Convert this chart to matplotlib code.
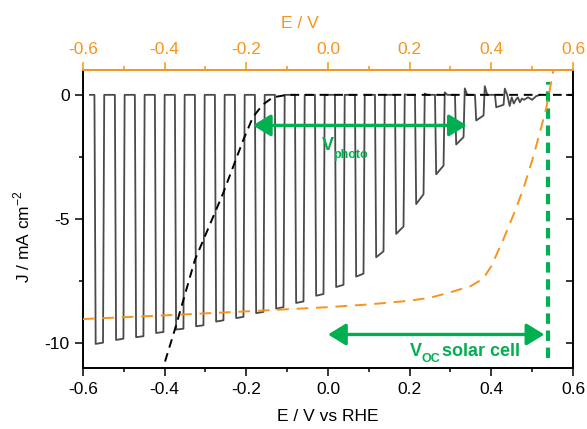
import matplotlib
matplotlib.use("Agg")
import matplotlib.pyplot as plt
from matplotlib.ticker import MultipleLocator

plt.rcParams['font.family'] = ['Liberation Sans', 'DejaVu Sans']
plt.rcParams['axes.unicode_minus'] = False
plt.rcParams['mathtext.fontset'] = 'custom'
plt.rcParams['mathtext.rm'] = 'Liberation Sans'

ORANGE = '#f7941d'
GREEN = '#00b050'
GREY = '#4a4a4a'

# chopped illumination scan (photoelectrode, vs RHE)
pulse_on = [-0.572, -0.522, -0.473, -0.424, -0.375, -0.326, -0.277, -0.228,
            -0.179, -0.130, -0.081, -0.032, 0.017, 0.066, 0.115, 0.164,
            0.213, 0.262, 0.311, 0.360, 0.409]
pulse_j_start = [-10.03, -9.87, -9.76, -9.59, -9.45, -9.32, -9.13, -8.99,
                 -8.79, -8.61, -8.38, -8.09, -7.74, -7.32, -6.54, -5.6,
                 -4.4, -3.2, -2.0, -1.03, -0.5]
pulse_j_end = [-9.98, -9.82, -9.72, -9.55, -9.42, -9.28, -9.08, -8.94,
               -8.74, -8.55, -8.32, -8.02, -7.65, -7.2, -6.3, -5.3,
               -4.0, -2.85, -1.7, -0.83, -0.4]
pulse_spike = [0, 0, 0, 0, 0, 0, 0, 0, 0, 0, 0, 0, 0, 0, 0, 0.02,
               0.05, 0.1, 0.26, 0.35, 0.25]
scan_start = -0.583
tail_e = [0.445, 0.45, 0.455, 0.46, 0.465, 0.47, 0.475, 0.48, 0.49, 0.5, 0.51, 0.52]
tail_j = [-0.45, -0.1, -0.35, -0.2, -0.1, -0.3, -0.15, -0.2, -0.1, -0.2, -0.05, 0.0]

# dark scan
dark_e = [-0.41, -0.404, -0.375, -0.326, -0.257, -0.208, -0.184, -0.16, -0.135, -0.1, 0.6]
dark_j = [-11.3, -11.0, -9.45, -6.65, -3.97, -1.84, -0.9, -0.4, -0.1, 0.0, 0.0]

# solar cell J-V (top axis, E / V)
pv_e = [-0.6, -0.4, -0.2, 0.0, 0.1, 0.2, 0.25, 0.3, 0.35, 0.38, 0.4, 0.43,
        0.46, 0.48, 0.5, 0.52, 0.535, 0.552]
pv_j = [-9.03, -8.88, -8.72, -8.55, -8.44, -8.29, -8.17, -7.95, -7.7, -7.4,
        -6.9, -5.8, -4.6, -3.7, -2.65, -1.45, -0.5, 0.97]

voc = 0.54
vphoto_left, vphoto_right, vphoto_j = -0.184, 0.34, -1.23
voc_left, voc_right, voc_j = 0.0, 0.53, -9.65

# build the chopped trace from the pulse table
chop_e = [scan_start]
chop_j = [0.0]
for e0, j0, j1, sp in zip(pulse_on, pulse_j_start, pulse_j_end, pulse_spike):
    chop_e += [e0, e0 + 0.003, e0 + 0.021, e0 + 0.024, e0 + 0.030]
    chop_j += [0.0, j0, j1, sp, 0.0]
chop_e += tail_e
chop_j += tail_j

fig = plt.figure(figsize=(5.87, 4.29), dpi=100)
ax = fig.add_axes([0.1414, 0.1422, 0.8347, 0.6946])

ax.plot(chop_e, chop_j, color=GREY, lw=1.3, zorder=3)
ax.plot(dark_e, dark_j, color='black', lw=1.4, dashes=(4.5, 3), zorder=4)

ax.set_xlim(-0.6, 0.6)
ax.set_ylim(-11, 1)
ax.xaxis.set_major_locator(MultipleLocator(0.2))
ax.xaxis.set_minor_locator(MultipleLocator(0.1))
ax.yaxis.set_major_locator(MultipleLocator(5))
ax.yaxis.set_minor_locator(MultipleLocator(2.5))
ax.xaxis.set_major_formatter(plt.FuncFormatter(lambda v, p: f"{v:.1f}"))
ax.tick_params(which='major', direction='out', length=6, width=1.1, labelsize=12.5)
ax.tick_params(which='minor', direction='out', length=3, width=1.1)
ax.tick_params(axis='x', pad=4)
ax.spines['top'].set_visible(False)
ax.spines['right'].set_visible(False)
for s in ['left', 'bottom']:
    ax.spines[s].set_linewidth(1.4)

ax.set_xlabel('E / V vs RHE', fontsize=12.5, labelpad=9)
ax.set_ylabel('J / mA cm$^{-2}$', fontsize=12.5)
ax.yaxis.set_label_coords(-0.104, 0.44)

# right axis: inward ticks, no labels
axr = ax.twinx()
axr.set_ylim(ax.get_ylim())
axr.yaxis.set_major_locator(MultipleLocator(5))
axr.yaxis.set_minor_locator(MultipleLocator(2.5))
axr.tick_params(which='both', direction='in', length=5, width=1.1, labelright=False)
for s in ['left', 'bottom', 'top']:
    axr.spines[s].set_visible(False)
axr.spines['right'].set_linewidth(1.4)

# top axis for the solar cell curve
axt = ax.twiny()
axt.plot(pv_e, pv_j, color=ORANGE, lw=1.4, dashes=(6, 4), zorder=2)
axt.set_xlim(ax.get_xlim())
axt.xaxis.set_major_locator(MultipleLocator(0.2))
axt.xaxis.set_minor_locator(MultipleLocator(0.1))
axt.xaxis.set_major_formatter(plt.FuncFormatter(lambda v, p: f"{v:.1f}"))
axt.tick_params(which='major', direction='out', length=6, width=1.1,
                color=ORANGE, labelcolor=ORANGE, labelsize=12.5)
axt.tick_params(which='minor', direction='out', length=3, width=1.1, color=ORANGE)
for s in ['left', 'bottom', 'right']:
    axt.spines[s].set_visible(False)
axt.spines['top'].set_color(ORANGE)
axt.spines['top'].set_linewidth(1.4)
axt.set_xlabel('E / V', color=ORANGE, fontsize=12.5)
axt.xaxis.set_label_coords(0.443, 1.14)

# annotations
ax.plot([voc, voc], [-10.6, 0.5], color=GREEN, lw=3, dashes=(2.5, 1.6), zorder=5)
arrow = dict(arrowstyle='<|-|>,head_length=0.9,head_width=0.55', color=GREEN,
             lw=2.4, mutation_scale=12, shrinkA=0, shrinkB=0)
ax.annotate('', xy=(vphoto_right, vphoto_j), xytext=(vphoto_left, vphoto_j),
            arrowprops=arrow, zorder=6)
ax.annotate('', xy=(voc_right, voc_j), xytext=(voc_left, voc_j),
            arrowprops=arrow, zorder=6)

ax.text(-0.015, -2.24, 'V', color=GREEN, fontsize=13, fontweight='bold', va='baseline')
ax.text(0.013, -2.55, 'photo', color=GREEN, fontsize=9, fontweight='bold', va='baseline')
ax.text(0.201, -10.52, 'V', color=GREEN, fontsize=13, fontweight='bold', va='baseline')
ax.text(0.229, -10.75, 'OC', color=GREEN, fontsize=9, fontweight='bold', va='baseline')
ax.text(0.279, -10.52, 'solar cell', color=GREEN, fontsize=13, fontweight='bold', va='baseline')

fig.savefig('out.png', dpi=100)
